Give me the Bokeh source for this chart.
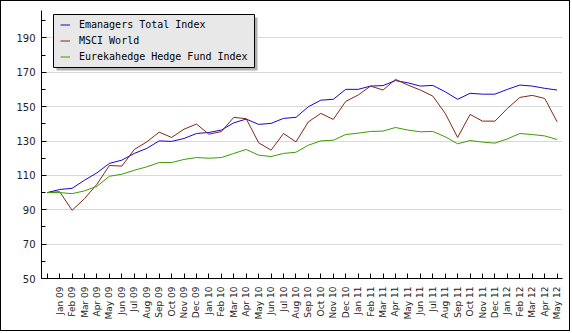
from bokeh.plotting import figure
from bokeh.models import (Range1d, FixedTicker, Legend, LegendItem, BoxAnnotation)
from bokeh.embed import file_html
from bokeh.resources import INLINE
import math

tick_labels = ["", "Jan 09", "Feb 09", "Mar 09", "Apr 09", "May 09", "Jun 09", "Jul 09",
               "Aug 09", "Sep 09", "Oct 09", "Nov 09", "Dec 09", "Jan 10", "Feb 10",
               "Mar 10", "Apr 10", "May 10", "Jun 10", "Jul 10", "Aug 10", "Sep 10",
               "Oct 10", "Nov 10", "Dec 10", "Jan 11", "Feb 11", "Mar 11", "Apr 11",
               "May 11", "Jun 11", "Jul 11", "Aug 11", "Sep 11", "Oct 11", "Nov 11",
               "Dec 11", "Jan 12", "Feb 12", "Mar 12", "Apr 12", "May 12"]

emanagers = [100, 101.8, 102.5, 107.2, 111.5, 117, 118.9, 122.8, 125.7, 130.1, 129.8,
             131.5, 134.4, 135, 136.4, 140.6, 142.8, 139.7, 140.3, 143.2, 143.8, 150,
             153.8, 154.3, 160.1, 160.1, 162, 162.3, 165.2, 163.9, 162, 162.4, 158.7,
             154.3, 157.8, 157.3, 157.3, 160.1, 162.6, 162, 160.7, 159.7]
msci = [100, 100.5, 89.7, 96.5, 104.9, 115.8, 115.4, 125.1, 129.5, 135.2, 132.1, 136.9,
        139.9, 134, 135.5, 143.8, 143, 129, 124.7, 134.4, 129.5, 141.2, 146.1, 142.6,
        153.1, 156.8, 162, 159.7, 165.9, 162.6, 159.7, 156.2, 146.1, 132.1, 145.5,
        141.6, 141.6, 149, 155.4, 156.6, 154.8, 141.2]
eureka = [100, 100, 99.4, 101, 103.7, 109.5, 110.7, 113, 115, 117.5, 117.5, 119.3, 120.4,
          120, 120.4, 122.8, 125.1, 121.8, 121, 122.8, 123.5, 127.6, 130.1, 130.5, 133.8,
          134.6, 135.6, 135.8, 137.9, 136.4, 135.4, 135.6, 132.5, 128.4, 130.3, 129.4,
          128.8, 131.3, 134.4, 133.8, 133, 130.9]

series_names = ["Emanagers Total Index", "MSCI World", "Eurekahedge Hedge Fund Index"]
series_colors = ["#2200cc", "#7f2a14", "#3c9c00"]
y_major = [50, 70, 90, 110, 130, 150, 170, 190]
y_minor = [60, 80, 100, 120, 140, 160, 180, 200]

x = list(range(len(tick_labels)))

p = figure(width=570, height=331, output_backend="svg", toolbar_location=None,
           x_range=Range1d(-0.46, 41.43), y_range=Range1d(50, 206),
           min_border_left=40, min_border_right=9, min_border_top=9,
           min_border_bottom=54)
p.styles = {"border": "1px solid black"}
p.outline_line_color = None
p.background_fill_color = "white"
p.border_fill_color = "white"

p.xgrid.grid_line_color = None
p.ygrid.grid_line_color = "#d9d9d9"
p.ygrid.grid_line_width = 1

p.xaxis.ticker = FixedTicker(ticks=x)
p.xaxis.major_label_overrides = {i: lab for i, lab in zip(x, tick_labels)}
p.xaxis.major_label_orientation = math.pi / 2
p.xaxis.major_tick_in = 5
p.xaxis.major_tick_out = 0
p.xaxis.minor_tick_line_color = None
p.xaxis.major_label_standoff = 8
p.xaxis.major_label_text_font = "DejaVu Sans"
p.xaxis.major_label_text_font_size = "9px"
p.xaxis.major_label_text_color = "#222222"

p.yaxis.ticker = FixedTicker(ticks=y_major, minor_ticks=y_minor)
p.yaxis.major_tick_in = 5
p.yaxis.major_tick_out = 0
p.yaxis.minor_tick_in = 4
p.yaxis.minor_tick_out = 0
p.yaxis.major_label_standoff = 6
p.yaxis.major_label_text_font = "DejaVu Sans"
p.yaxis.major_label_text_font_size = "10px"
p.yaxis.major_label_text_color = "#222222"

for ax in (p.xaxis, p.yaxis):
    ax.axis_line_color = "black"
    ax.major_tick_line_color = "black"
p.yaxis.minor_tick_line_color = "black"

renderers = []
for vals, col in zip([emanagers, msci, eureka], series_colors):
    r = p.line(x, vals, line_color=col, line_width=1)
    renderers.append(r)

# legend box (shadow + background), then legend items
shadow = BoxAnnotation(left=54, right=255, top=15, bottom=68,
                       left_units="canvas", right_units="canvas",
                       top_units="canvas", bottom_units="canvas",
                       fill_color="#b0b0b0", fill_alpha=1, line_color=None)
bg = BoxAnnotation(left=51, right=252, top=12, bottom=65,
                   left_units="canvas", right_units="canvas",
                   top_units="canvas", bottom_units="canvas",
                   fill_color="#e8e8e8", fill_alpha=1, line_color="black",
                   line_width=1, line_alpha=1)
p.add_layout(shadow)
p.add_layout(bg)

legend = Legend(items=[LegendItem(label=n, renderers=[r]) for n, r in zip(series_names, renderers)],
                location=(19, 215.5), padding=0, margin=0, spacing=3,
                label_height=13, glyph_height=13, glyph_width=10, label_standoff=9,
                label_text_font="DejaVu Sans Mono", label_text_font_size="10px",
                label_text_color="black",
                background_fill_alpha=0, border_line_color=None)
p.add_layout(legend, "center")

open("out.html", "w").write(file_html(p, INLINE))
